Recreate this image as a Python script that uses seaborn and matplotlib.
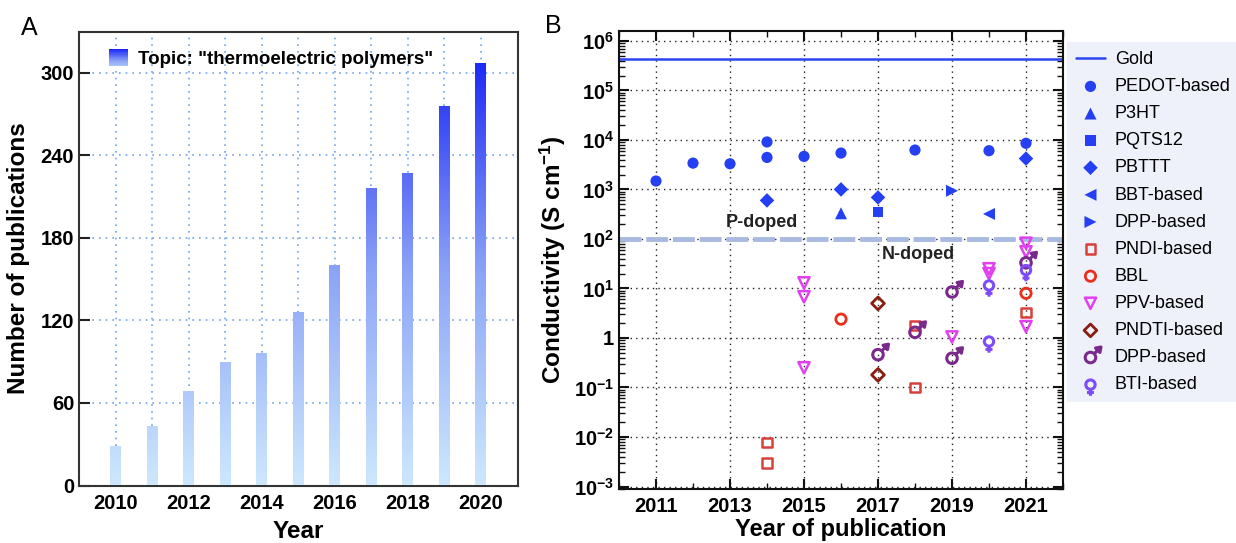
import numpy as np
import matplotlib
matplotlib.use("Agg")
import matplotlib.pyplot as plt
import seaborn as sns
from matplotlib.path import Path
from matplotlib.patches import Rectangle
from matplotlib.legend_handler import HandlerBase
from matplotlib.colors import LinearSegmentedColormap
from matplotlib.ticker import FixedLocator, FixedFormatter, LogLocator, NullFormatter

# ---------------- Panel A data ----------------
pub_years = [2010, 2011, 2012, 2013, 2014, 2015, 2016, 2017, 2018, 2019, 2020]
pub_counts = [29, 43, 69, 90, 96, 126, 160, 216, 227, 276, 307]
pub_xtick_years = [2010, 2012, 2014, 2016, 2018, 2020]
pub_ytick_values = [0, 60, 120, 180, 240, 300]
pub_legend_label = 'Topic: "thermoelectric polymers"'

# ---------------- Panel B data ----------------
gold_conductivity = 4.4e5
pdoped_threshold = 100
b_xtick_years = [2011, 2013, 2015, 2017, 2019, 2021]
b_ytick_values = [1e-3, 1e-2, 1e-1, 1, 1e1, 1e2, 1e3, 1e4, 1e5, 1e6]
b_ytick_labels = [r"$\mathbf{10^{-3}}$", r"$\mathbf{10^{-2}}$", r"$\mathbf{10^{-1}}$", r"$\mathbf{1}$",
                  r"$\mathbf{10^{1}}$", r"$\mathbf{10^{2}}$", r"$\mathbf{10^{3}}$", r"$\mathbf{10^{4}}$",
                  r"$\mathbf{10^{5}}$", r"$\mathbf{10^{6}}$"]

pedot_years = [2011, 2012, 2013, 2014, 2014, 2015, 2016, 2018, 2020, 2021]
pedot_vals = [1480, 3400, 3300, 9100, 4430, 4650, 5430, 6250, 6060, 8550]
p3ht_years = [2016]
p3ht_vals = [330]
pqts_years = [2017]
pqts_vals = [350]
pbttt_years = [2014, 2016, 2017, 2021]
pbttt_vals = [600, 1000, 690, 4200]
bbt_years = [2020]
bbt_vals = [320]
dppp_years = [2019]
dppp_vals = [940]
pndi_years = [2014, 2014, 2018, 2018, 2021]
pndi_vals = [0.0078, 0.003, 1.8, 0.1, 3.3]
bbl_years = [2016, 2021]
bbl_vals = [2.4, 8.0]
ppv_years = [2015, 2015, 2015, 2019, 2020, 2020, 2021, 2021, 2021]
ppv_vals = [13, 6.8, 0.25, 1.05, 25, 20, 82, 55, 1.7]
pndti_years = [2017, 2017]
pndti_vals = [5.0, 0.18]
dppn_years = [2017, 2018, 2019, 2019, 2021]
dppn_vals = [0.46, 1.3, 8.5, 0.39, 33]
bti_years = [2020, 2020, 2021]
bti_vals = [11.5, 0.85, 23.5]

# ---------------- style ----------------
sns.set_style("white")
plt.rcParams["font.family"] = ["Liberation Sans", "DejaVu Sans"]
plt.rcParams["mathtext.fontset"] = "custom"
plt.rcParams["mathtext.rm"] = "Liberation Sans"
plt.rcParams["mathtext.bf"] = "Liberation Sans:bold"
plt.rcParams["mathtext.it"] = "Liberation Sans:italic"
plt.rcParams["axes.unicode_minus"] = True
for key in ["text.color", "axes.labelcolor", "xtick.color", "ytick.color"]:
    plt.rcParams[key] = "black"

fig = plt.figure(figsize=(12.36, 5.43), dpi=100)
axA = fig.add_axes([79 / 1236, 1 - 485.5 / 543, 438.5 / 1236, 453.8 / 543])
axB = fig.add_axes([619 / 1236, 1 - 489 / 543, 444 / 1236, 458 / 543])

# ---------------- Panel A ----------------
grad_cmap = LinearSegmentedColormap.from_list(
    "pubgrad", [(0.0, "#cde8fd"), (0.5, "#8ca4f6"), (1.0, "#1b28f4")])

sns.barplot(x=pub_years, y=pub_counts, native_scale=True, width=0.3,
            color="#8ca4f6", errorbar=None, ax=axA, zorder=3)
grad = np.linspace(0, 1, 256).reshape(-1, 1)
for p in list(axA.patches):
    im = axA.imshow(grad, extent=[2009, 2021, 0, 310], origin="lower",
                    aspect="auto", cmap=grad_cmap, zorder=3, interpolation="bilinear")
    im.set_clip_path(p)
    p.set_facecolor("none")
    p.set_edgecolor("none")

axA.set_xlim(2009, 2021)
axA.set_ylim(0, 330)
axA.xaxis.set_major_locator(FixedLocator(pub_xtick_years))
axA.xaxis.set_minor_locator(FixedLocator([y for y in pub_years if y not in pub_xtick_years]))
axA.yaxis.set_major_locator(FixedLocator(pub_ytick_values))
axA.tick_params(axis="both", which="both", direction="in", length=8, width=1.5,
                color="#222222", labelsize=14.5, top=False, right=False, bottom=True, left=True)
axA.tick_params(axis="x", pad=6)
for lab in axA.get_xticklabels() + axA.get_yticklabels():
    lab.set_fontweight("bold")
axA.grid(True, which="both", axis="x", linestyle=(0, (1, 3)), color="#6fa3e6", linewidth=1.2, zorder=0)
axA.grid(True, which="major", axis="y", linestyle=(0, (1, 3)), color="#6fa3e6", linewidth=1.2, zorder=0)
axA.set_axisbelow(True)
for s in axA.spines.values():
    s.set_linewidth(1.5)
    s.set_color("#333333")
axA.set_xlabel("Year", fontsize=17.5, fontweight="bold", labelpad=5)
axA.set_ylabel("Number of publications", fontsize=17.5, fontweight="bold", labelpad=8)


class GradientHandler(HandlerBase):
    def create_artists(self, legend, orig_handle, xdescent, ydescent, width, height, fontsize, trans):
        n = 30
        arts = []
        for i in range(n):
            r = Rectangle((-xdescent, -ydescent + height * i / n), width, height / n + 0.3,
                          facecolor=grad_cmap(0.3 + 0.7 * i / (n - 1)), edgecolor="none",
                          transform=trans)
            arts.append(r)
        return arts


proxy = Rectangle((0, 0), 1, 1)
axA.legend([proxy], [pub_legend_label], handler_map={Rectangle: GradientHandler()},
           loc="upper left", bbox_to_anchor=(0.068, 0.962), frameon=False,
           borderpad=0, borderaxespad=0, handlelength=1.0, handleheight=1.0,
           handletextpad=0.55, prop={"size": 13.5, "weight": "bold"})

fig.text(29 / 1236, 1 - 28 / 543, "A", fontsize=18, ha="center", va="center")

# ---------------- Panel B ----------------
blue = "#2440f2"
axB.axhline(gold_conductivity, color="#2a45f0", linewidth=1.8, label="Gold", zorder=2)
axB.axhline(pdoped_threshold, color="#a8badf", linewidth=3.5, dashes=(4.5, 1.0),
            label="_nolegend_", zorder=2)


def filled(xs, ys, marker, s, color, label):
    sns.scatterplot(x=xs, y=ys, marker=marker, s=s, color=color, edgecolor="none",
                    linewidth=0, ax=axB, label=label, legend=False, zorder=4)


def hollow(xs, ys, marker, s, color, label, lw=1.8):
    sns.scatterplot(x=xs, y=ys, marker=marker, s=s, color=color, facecolor="none",
                    edgecolor=color, linewidth=lw, ax=axB, label=label, legend=False, zorder=4)


# custom gender-symbol markers
circ = Path.unit_circle()
cv = circ.vertices
male_verts = list(cv) + [(0.707, 0.707), (1.75, 1.75),
                         (2.0, 2.0), (0.95, 1.8), (1.8, 0.95), (2.0, 2.0)]
male_codes = list(circ.codes) + [Path.MOVETO, Path.LINETO,
                                 Path.MOVETO, Path.LINETO, Path.LINETO, Path.CLOSEPOLY]
male_path = Path(np.array(male_verts), male_codes)

fem_verts = list(cv) + [(0, -1.0), (0, -2.4), (-0.75, -1.7), (0.75, -1.7)]
fem_codes = list(circ.codes) + [Path.MOVETO, Path.LINETO, Path.MOVETO, Path.LINETO]
fem_path = Path(np.array(fem_verts), fem_codes)

filled(pedot_years, pedot_vals, "o", 65, blue, "PEDOT-based")
filled(p3ht_years, p3ht_vals, "^", 75, blue, "P3HT")
filled(pqts_years, pqts_vals, "s", 60, blue, "PQTS12")
filled(pbttt_years, pbttt_vals, "D", 55, blue, "PBTTT")
filled(bbt_years, bbt_vals, "<", 75, blue, "BBT-based")
filled(dppp_years, dppp_vals, ">", 75, blue, "DPP-based")
hollow(pndi_years, pndi_vals, "s", 45, "#d8403a", "PNDI-based")
hollow(bbl_years, bbl_vals, "o", 55, "#e8301a", "BBL", lw=2.0)
hollow(ppv_years, ppv_vals, "v", 65, "#e040f0", "PPV-based")
hollow(pndti_years, pndti_vals, "D", 42, "#8a1c10", "PNDTI-based", lw=2.0)
hollow(dppn_years, dppn_vals, male_path, 230, "#7a2a8c", "DPP-based", lw=2.2)
hollow(bti_years, bti_vals, fem_path, 260, "#7b4cf8", "BTI-based", lw=2.2)

axB.set_yscale("log")
axB.set_xlim(2010, 2022)
axB.set_ylim(10 ** -3.05, 10 ** 6.2)
axB.xaxis.set_major_locator(FixedLocator(b_xtick_years))
axB.xaxis.set_minor_locator(FixedLocator([y for y in range(2010, 2023) if y not in b_xtick_years]))
axB.yaxis.set_major_locator(FixedLocator(b_ytick_values))
axB.yaxis.set_major_formatter(FixedFormatter(b_ytick_labels))
axB.yaxis.set_minor_locator(LogLocator(base=10, subs=np.arange(2, 10), numticks=20))
axB.yaxis.set_minor_formatter(NullFormatter())
axB.tick_params(axis="both", which="major", direction="in", length=7, width=1.5,
                labelsize=14.5, top=True, right=True, bottom=True, left=True, color="#111111")
axB.tick_params(axis="both", which="minor", direction="in", length=4, width=1.0,
                top=True, right=True, bottom=True, left=True, color="#111111")
axB.tick_params(axis="x", pad=6)
for lab in axB.get_xticklabels():
    lab.set_fontweight("bold")
axB.grid(True, which="major", linestyle=(0, (1, 3)), color="#222222", linewidth=1.0, zorder=0)
axB.set_axisbelow(True)
for s in axB.spines.values():
    s.set_linewidth(1.5)
    s.set_color("#111111")
axB.set_xlabel("Year of publication", fontsize=17, fontweight="bold", labelpad=1)
axB.set_ylabel(r"Conductivity (S cm$^{\mathbf{-1}}$)", fontsize=17.5, fontweight="bold", labelpad=4)

axB.text(2013.85, 220, "P-doped", fontsize=13, fontweight="bold", ha="center", va="center",
         color="#222222", zorder=5)
axB.text(2018.1, 48, "N-doped", fontsize=13, fontweight="bold", ha="center", va="center",
         color="#222222", zorder=5)

handles, labels = axB.get_legend_handles_labels()
leg = axB.legend(handles, labels, loc="upper left", bbox_to_anchor=(1067 / 1236, 1 - 42 / 543),
                 bbox_transform=fig.transFigure, frameon=True, facecolor="#eef0fa",
                 edgecolor="none", fancybox=False, framealpha=1, borderaxespad=0,
                 borderpad=0.5, labelspacing=0.56, handlelength=1.6, handletextpad=0.55,
                 fontsize=13)

fig.text(553 / 1236, 1 - 26 / 543, "B", fontsize=18, ha="center", va="center")

fig.savefig("out.png", dpi=100)
